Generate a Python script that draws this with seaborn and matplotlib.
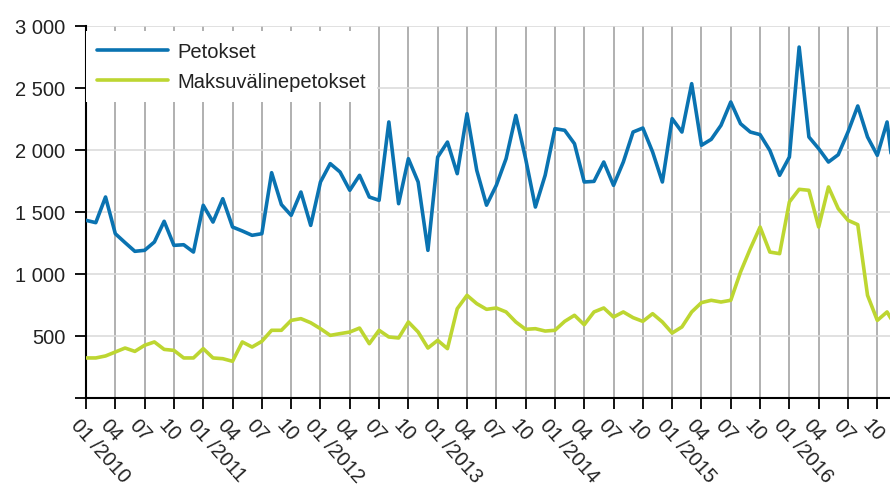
import matplotlib
matplotlib.use("Agg")
import matplotlib.pyplot as plt
import matplotlib.transforms as mtransforms
import seaborn as sns
import pandas as pd
from matplotlib.ticker import FuncFormatter

# ---- data (monthly, 01/2010 .. 12/2016) ----
years = [2010, 2011, 2012, 2013, 2014, 2015, 2016]
petokset = [
    1433, 1414, 1621, 1325, 1253, 1183, 1191, 1258, 1425, 1231, 1236, 1177,
    1554, 1419, 1607, 1379, 1347, 1312, 1325, 1817, 1560, 1473, 1661, 1392,
    1742, 1890, 1823, 1675, 1796, 1621, 1594, 2226, 1567, 1930, 1742, 1191,
    1943, 2064, 1809, 2293, 1836, 1555, 1715, 1930, 2279, 1930, 1540, 1796,
    2172, 2159, 2051, 1742, 1747, 1903, 1715, 1903, 2145, 2177, 1984, 1742,
    2253, 2145, 2535, 2038, 2086, 2199, 2387, 2212, 2145, 2124, 1997, 1796,
    1943, 2830, 2105, 2011, 1903, 1962, 2145, 2355, 2105, 1957, 2226, 1600,
]
maksuvaline = [
    323, 323, 339, 371, 403, 376, 425, 452, 392, 384, 323, 323,
    398, 323, 317, 296, 452, 411, 457, 546, 546, 626, 640, 607,
    559, 505, 519, 532, 564, 438, 546, 492, 484, 613, 532, 403,
    465, 398, 720, 828, 761, 715, 726, 694, 613, 554, 559, 540,
    546, 618, 667, 591, 694, 726, 653, 694, 648, 618, 680, 613,
    524, 573, 694, 769, 788, 774, 788, 1016, 1204, 1379, 1177, 1164,
    1581, 1683, 1675, 1379, 1702, 1527, 1433, 1398, 828, 626, 694, 560,
]
series_names = ["Petokset", "Maksuvälinepetokset"]
tick_months = ["01", "04", "07", "10"]
y_ticks = [0, 500, 1000, 1500, 2000, 2500, 3000]

n = len(petokset)
df = pd.DataFrame({
    "month": list(range(n)) * 2,
    "value": petokset + maksuvaline,
    "series": [series_names[0]] * n + [series_names[1]] * n,
})

sns.set_style("white")
plt.rcParams["font.family"] = ["Liberation Sans", "DejaVu Sans"]

BLUE = "#0a73b1"
GREEN = "#bdd631"

fig = plt.figure(figsize=(8.9, 4.85), dpi=100)
ax = fig.add_axes([86 / 890, 1 - 399 / 485, (890 - 86) / 890, 372 / 485])

sns.lineplot(data=df, x="month", y="value", hue="series",
             palette=[BLUE, GREEN], linewidth=2.6, ax=ax, zorder=3)

ax.set_xlim(0, 82.3)
ax.set_ylim(0, 3000)

# y axis
ax.set_yticks(y_ticks)
ax.yaxis.set_major_formatter(FuncFormatter(
    lambda v, p: "" if v == 0 else f"{int(v):,}".replace(",", " ")))

ax.set_axisbelow(True)
ax.grid(axis="y", color="#dcdcdc", linewidth=1.2)
ax.grid(axis="x", color="#a3a3a3", linewidth=1.2)

for s in ["top", "right"]:
    ax.spines[s].set_visible(False)
for s in ["left", "bottom"]:
    ax.spines[s].set_color("black")
    ax.spines[s].set_linewidth(1.5)

ax.tick_params(axis="both", bottom=True, left=True, direction="out",
               length=8, width=1.3, color="black", labelsize=14.5,
               labelcolor="#222222")
ax.tick_params(axis="y", pad=7)
ax.tick_params(axis="x", pad=4)

# x axis labels (after tick_params, which would reset transforms)
xt = list(range(0, 82, 3))
labels = []
for t in xt:
    m = tick_months[(t % 12) // 3]
    if m == "01":
        labels.append(f"01 /{years[t // 12]}")
    else:
        labels.append(m)
ax.set_xticks(xt)
ax.set_xticklabels(labels, rotation=-48, ha="left", va="top",
                   rotation_mode="anchor")
offset = mtransforms.ScaledTranslation(-5 / 100, 0, fig.dpi_scale_trans)
for lab in ax.get_xticklabels():
    lab.set_transform(lab.get_transform() + offset)

ax.set_xlabel("")
ax.set_ylabel("")

leg = ax.legend(loc="upper left", bbox_to_anchor=(0, 0.987),
                frameon=True, facecolor="white", edgecolor="none",
                framealpha=1, fancybox=False, fontsize=14.5,
                handlelength=3.5, handletextpad=0.5, labelspacing=0.55,
                borderpad=0.55, borderaxespad=0)
for line in leg.get_lines():
    line.set_linewidth(2.6)
for txt in leg.get_texts():
    txt.set_color("#222222")
leg.set_zorder(5)

fig.savefig("out.png", dpi=100)
